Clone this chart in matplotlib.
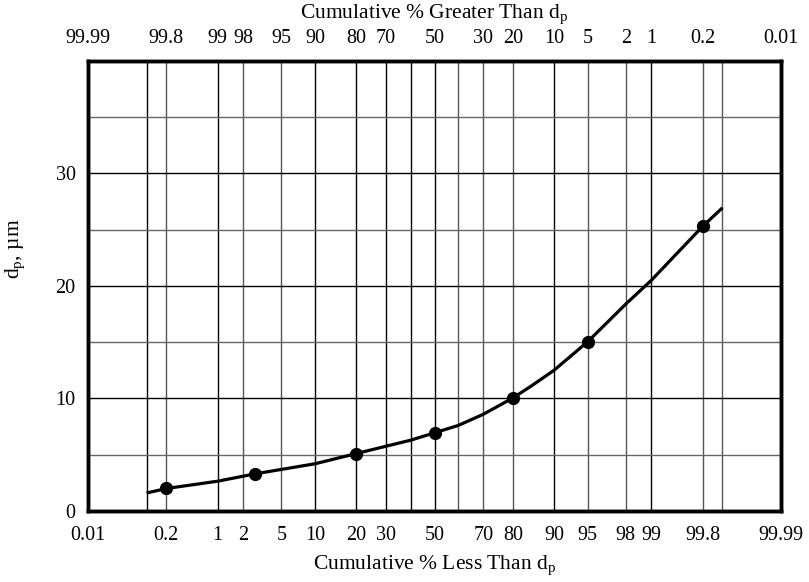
import numpy as np
import matplotlib
matplotlib.use("Agg")
import matplotlib.pyplot as plt
from statistics import NormalDist

plt.rcParams["font.family"] = ["Liberation Serif", "DejaVu Serif"]
plt.rcParams["mathtext.fontset"] = "custom"
plt.rcParams["mathtext.rm"] = "Liberation Serif"
plt.rcParams["mathtext.it"] = "Liberation Serif:italic"

# measured points (cumulative % less than dp, dp in um)
point_pct = [0.2, 2.7, 20, 50, 80, 95, 99.8]
point_dp = [2.0, 3.3, 5.1, 6.95, 10.05, 15.05, 25.3]

# smooth curve
curve_pct = [0.1, 0.2, 1, 2.7, 10, 20, 30, 40, 50, 60, 70, 80, 85, 90, 95, 98, 99, 99.8, 99.9]
curve_dp = [1.6, 2.0, 2.65, 3.3, 4.2, 5.1, 5.75, 6.3, 6.95, 7.6, 8.6, 10.05, 11.1, 12.5, 15.05, 18.4, 20.5, 25.3, 26.95]

bottom_ticks = [0.01, 0.2, 1, 2, 5, 10, 20, 30, 50, 70, 80, 90, 95, 98, 99, 99.8, 99.99]
bottom_labels = ["0.01", "0.2", "1", "2", "5", "10", "20", "30", "50", "70", "80",
                 "90", "95", "98", "99", "99.8", "99.99"]
top_labels = ["99.99", "99.8", "99", "98", "95", "90", "80", "70", "50", "30", "20",
              "10", "5", "2", "1", "0.2", "0.01"]
grid_pct = [0.1, 0.2, 1, 2, 5, 10, 20, 30, 40, 50, 60, 70, 80, 90, 95, 98, 99, 99.8, 99.9]
dark_grid = [0.1, 1, 10, 20, 30, 40, 50, 90, 99]

nd = NormalDist()
_ppf = np.vectorize(lambda v: nd.inv_cdf(v / 100.0), otypes=[float])
_cdf = np.vectorize(lambda v: nd.cdf(v) * 100.0, otypes=[float])


def fwd(p):
    p = np.clip(np.asarray(p, dtype=float), 1e-7, 100 - 1e-7)
    return _ppf(p)


def inv(z):
    return _cdf(np.asarray(z, dtype=float))


fig = plt.figure(figsize=(8.09, 5.82), dpi=100)
ax = fig.add_axes([0.1088, 0.122, 0.8566, 0.7732])
ax.set_xscale("function", functions=(fwd, inv))
ax.set_xlim(0.01, 99.99)
ax.set_ylim(0, 40)

for g in grid_pct:
    c = "black" if g in dark_grid else "#555555"
    ax.axvline(g, color=c, lw=1.0, zorder=1)
for yv in [5, 10, 15, 20, 25, 30, 35]:
    c = "black" if yv % 10 == 0 else "#666666"
    ax.axhline(yv, color=c, lw=1.0, zorder=1)

ax.plot(curve_pct, curve_dp, color="black", lw=2.3, zorder=3,
        solid_capstyle="butt", solid_joinstyle="round")
ax.plot(point_pct, point_dp, "o", color="black", ms=8.5, zorder=4)

ax.set_xticks(bottom_ticks)
ax.set_xticklabels(bottom_labels)
ax.xaxis.set_minor_locator(matplotlib.ticker.NullLocator())
ax.set_yticks([0, 10, 20, 30])
ax.tick_params(axis="y", length=0, labelsize=14.5, pad=9)
ax.tick_params(axis="x", length=0, labelsize=14.5, pad=11)
ax.set_xlabel(r"Cumulative % Less Than $\mathrm{d_p}$", fontsize=15.5, labelpad=6)
ax.set_ylabel(r"$\mathrm{d_p}$, µm", fontsize=15.5)
ax.yaxis.set_label_coords(-0.088, 0.582)

ax2 = ax.twiny()
ax2.set_xscale("function", functions=(fwd, inv))
ax2.set_xlim(ax.get_xlim())
ax2.set_xticks(bottom_ticks)
ax2.set_xticklabels(top_labels)
ax2.xaxis.set_minor_locator(matplotlib.ticker.NullLocator())
ax2.tick_params(axis="x", length=0, labelsize=14.5, pad=9)
ax2.set_xlabel(r"Cumulative % Greater Than $\mathrm{d_p}$", fontsize=15.5, labelpad=8)

for a in (ax, ax2):
    for s in a.spines.values():
        s.set_linewidth(2.5)
        s.set_zorder(5)

fig.savefig("out.png", dpi=100)
